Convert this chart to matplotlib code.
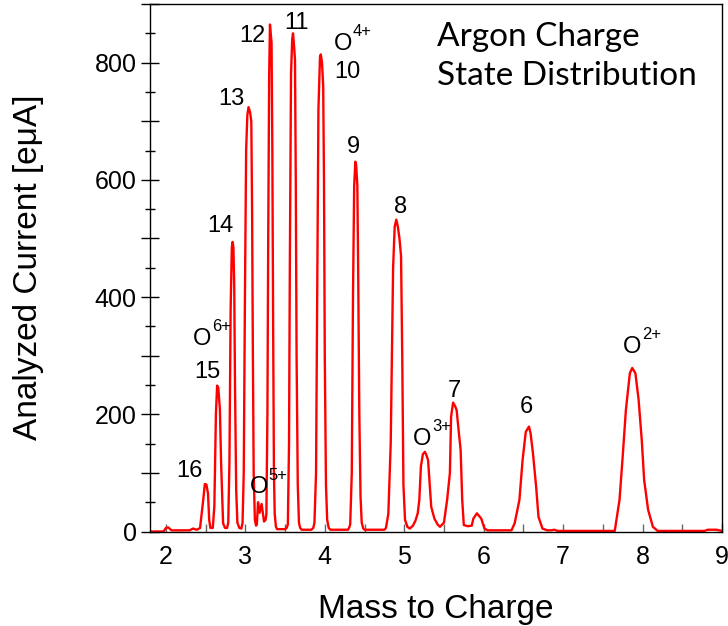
import matplotlib
matplotlib.use("Agg")
import matplotlib.pyplot as plt
from matplotlib.ticker import MultipleLocator, FuncFormatter

plt.rcParams['font.family'] = ['Liberation Sans', 'DejaVu Sans']

mass_to_charge = [
    1.80, 1.97, 2.00, 2.03, 2.07, 2.30, 2.34, 2.39, 2.43, 2.47, 2.49, 2.51, 2.53, 2.545, 2.56,
    2.59, 2.61, 2.63, 2.645, 2.66, 2.68, 2.695, 2.72, 2.745,
    2.77, 2.785, 2.80, 2.815, 2.83, 2.84, 2.85, 2.86, 2.87, 2.885, 2.90, 2.925,
    2.95, 2.965, 2.98, 2.995, 3.01, 3.025, 3.04, 3.06, 3.075, 3.085, 3.095, 3.105, 3.12, 3.135,
    3.145, 3.16, 3.18, 3.205, 3.235, 3.255,
    3.265, 3.278, 3.288, 3.30, 3.31, 3.32, 3.33, 3.34, 3.35, 3.36, 3.37, 3.385, 3.40,
    3.50, 3.52, 3.535, 3.55, 3.56, 3.575, 3.59, 3.60, 3.615, 3.625, 3.635, 3.645, 3.66, 3.675,
    3.69, 3.71,
    3.83, 3.855, 3.87, 3.89, 3.905, 3.92, 3.94, 3.95, 3.965, 3.98, 3.99, 4.00, 4.015, 4.03,
    4.05, 4.07,
    4.29, 4.305, 4.32, 4.34, 4.355, 4.37, 4.385, 4.395, 4.41, 4.42, 4.435, 4.45, 4.465, 4.485,
    4.50,
    4.75, 4.77, 4.80, 4.83, 4.86, 4.88, 4.90, 4.92, 4.94, 4.96, 4.975, 4.99, 5.01, 5.04, 5.07,
    5.11, 5.14, 5.17, 5.19, 5.21, 5.235, 5.26, 5.28, 5.30, 5.32, 5.34, 5.38, 5.42, 5.45,
    5.50, 5.54, 5.575, 5.59, 5.615, 5.64, 5.66, 5.68, 5.71, 5.73, 5.75, 5.80, 5.85, 5.87,
    5.915, 5.97, 6.01, 6.05, 6.35, 6.39, 6.45, 6.49, 6.53, 6.57, 6.59, 6.62, 6.66, 6.69,
    6.74, 6.80, 6.85, 6.89, 6.93, 7.65, 7.71, 7.75, 7.79, 7.84, 7.87, 7.91, 7.95, 7.99,
    8.02, 8.07, 8.13, 8.19, 8.78, 8.82, 8.93, 9.00,
]
current = [
    0, 0, 6, 7, 2, 2, 5, 3, 6, 54, 81, 80, 65, 20, 6,
    6, 43, 202, 249, 245, 208, 117, 14, 6,
    6, 15, 120, 380, 485, 494, 485, 420, 250, 70, 15, 6,
    5, 15, 100, 400, 650, 710, 724, 715, 700, 550, 300, 100, 20, 10,
    12, 50, 32, 47, 17, 20,
    30, 200, 500, 780, 865, 850, 834, 650, 350, 100, 30, 8, 4,
    4, 6, 12, 150, 450, 780, 840, 850, 825, 805, 600, 300, 80, 15,
    6, 3,
    3, 6, 15, 100, 400, 720, 810, 814, 800, 760, 600, 300, 80, 20,
    6, 3,
    3, 6, 12, 100, 400, 590, 631, 625, 590, 450, 200, 60, 15, 5,
    3,
    3, 6, 30, 150, 450, 520, 532, 520, 500, 470, 300, 80, 20, 8, 5,
    10, 18, 31, 54, 111, 132, 136, 130, 122, 82, 42, 22, 12, 8,
    15, 54, 100, 196, 220, 214, 207, 179, 139, 54, 11, 9, 10, 22,
    31, 22, 5, 2, 2, 14, 54, 122, 170, 179, 168, 134, 77, 25,
    5, 2, 2, 3, 1, 1, 54, 128, 207, 270, 279, 270, 225, 156,
    88, 37, 8, 1, 1, 3, 3, 1,
]

# Peak annotations: main text and superscript charge
label_text = ['16', '15', 'O', '14', '13', '12', '11', 'O', '10', '9',
              '8', '7', 'O', 'O', '6', 'O']
label_sup = ['', '', '6+', '', '', '', '', '4+', '', '',
             '', '', '3+', '5+', '', '2+']
label_x = [2.302, 2.516, 2.34, 2.69, 2.83, 3.094, 3.644, 4.113, 4.283, 4.365,
           4.956, 5.626, 5.111, 3.057, 6.537, 7.752]
label_y = [93.6, 262, 318, 511, 728, 835, 857.6, 822, 774, 646,
           544, 230, 148, 65, 202, 304]

fig = plt.figure(figsize=(7.28, 6.26), dpi=100)
ax = fig.add_axes([150/728, 1 - 531.5/626, 572/728, 527.5/626])

ax.plot(mass_to_charge, current, color='#ff0000', lw=1.7, solid_joinstyle='round')

ax.set_xlim(1.8, 9.0)
ax.set_ylim(0, 900)
ax.xaxis.set_major_locator(MultipleLocator(1))
ax.xaxis.set_minor_locator(MultipleLocator(0.5))
ax.yaxis.set_major_locator(MultipleLocator(100))
ax.yaxis.set_minor_locator(MultipleLocator(50))
ax.yaxis.set_major_formatter(FuncFormatter(
    lambda v, p: f'{int(round(v))}' if int(round(v)) % 200 == 0 else ''))

ax.tick_params(axis='x', which='both', direction='in', length=6, width=1,
               color='#666666', labelsize=18, pad=10)
ax.tick_params(axis='y', which='major', direction='inout', length=13, width=1,
               color='black', labelsize=18, pad=3)
ax.tick_params(axis='y', which='minor', direction='inout', length=7.2, width=1,
               color='black')
for sp in ax.spines.values():
    sp.set_linewidth(1.0)
    sp.set_color('black')

for t, s, x, y in zip(label_text, label_sup, label_x, label_y):
    if s:
        ax.text(x, y, t, fontsize=17, ha='left', va='baseline', color='black')
        ax.annotate(s, xy=(x, y), xytext=(13.6, 10.0), textcoords='offset points',
                    fontsize=12, ha='left', va='baseline', color='black')
    else:
        ax.text(x, y, t, fontsize=17, ha='center', va='baseline', color='black')

ax.text(5.41, 828, 'Argon Charge', fontsize=24, family=['Lato', 'DejaVu Sans'],
        ha='left', va='baseline')
ax.text(5.41, 761, 'State Distribution', fontsize=24, family=['Lato', 'DejaVu Sans'],
        ha='left', va='baseline')

ax.set_xlabel('Mass to Charge', fontsize=24, labelpad=18)
ax.set_ylabel('Analyzed Current [eμA]', fontsize=24)
ax.yaxis.set_label_coords(-0.185, 0.5)

fig.savefig('out.png', dpi=100)
